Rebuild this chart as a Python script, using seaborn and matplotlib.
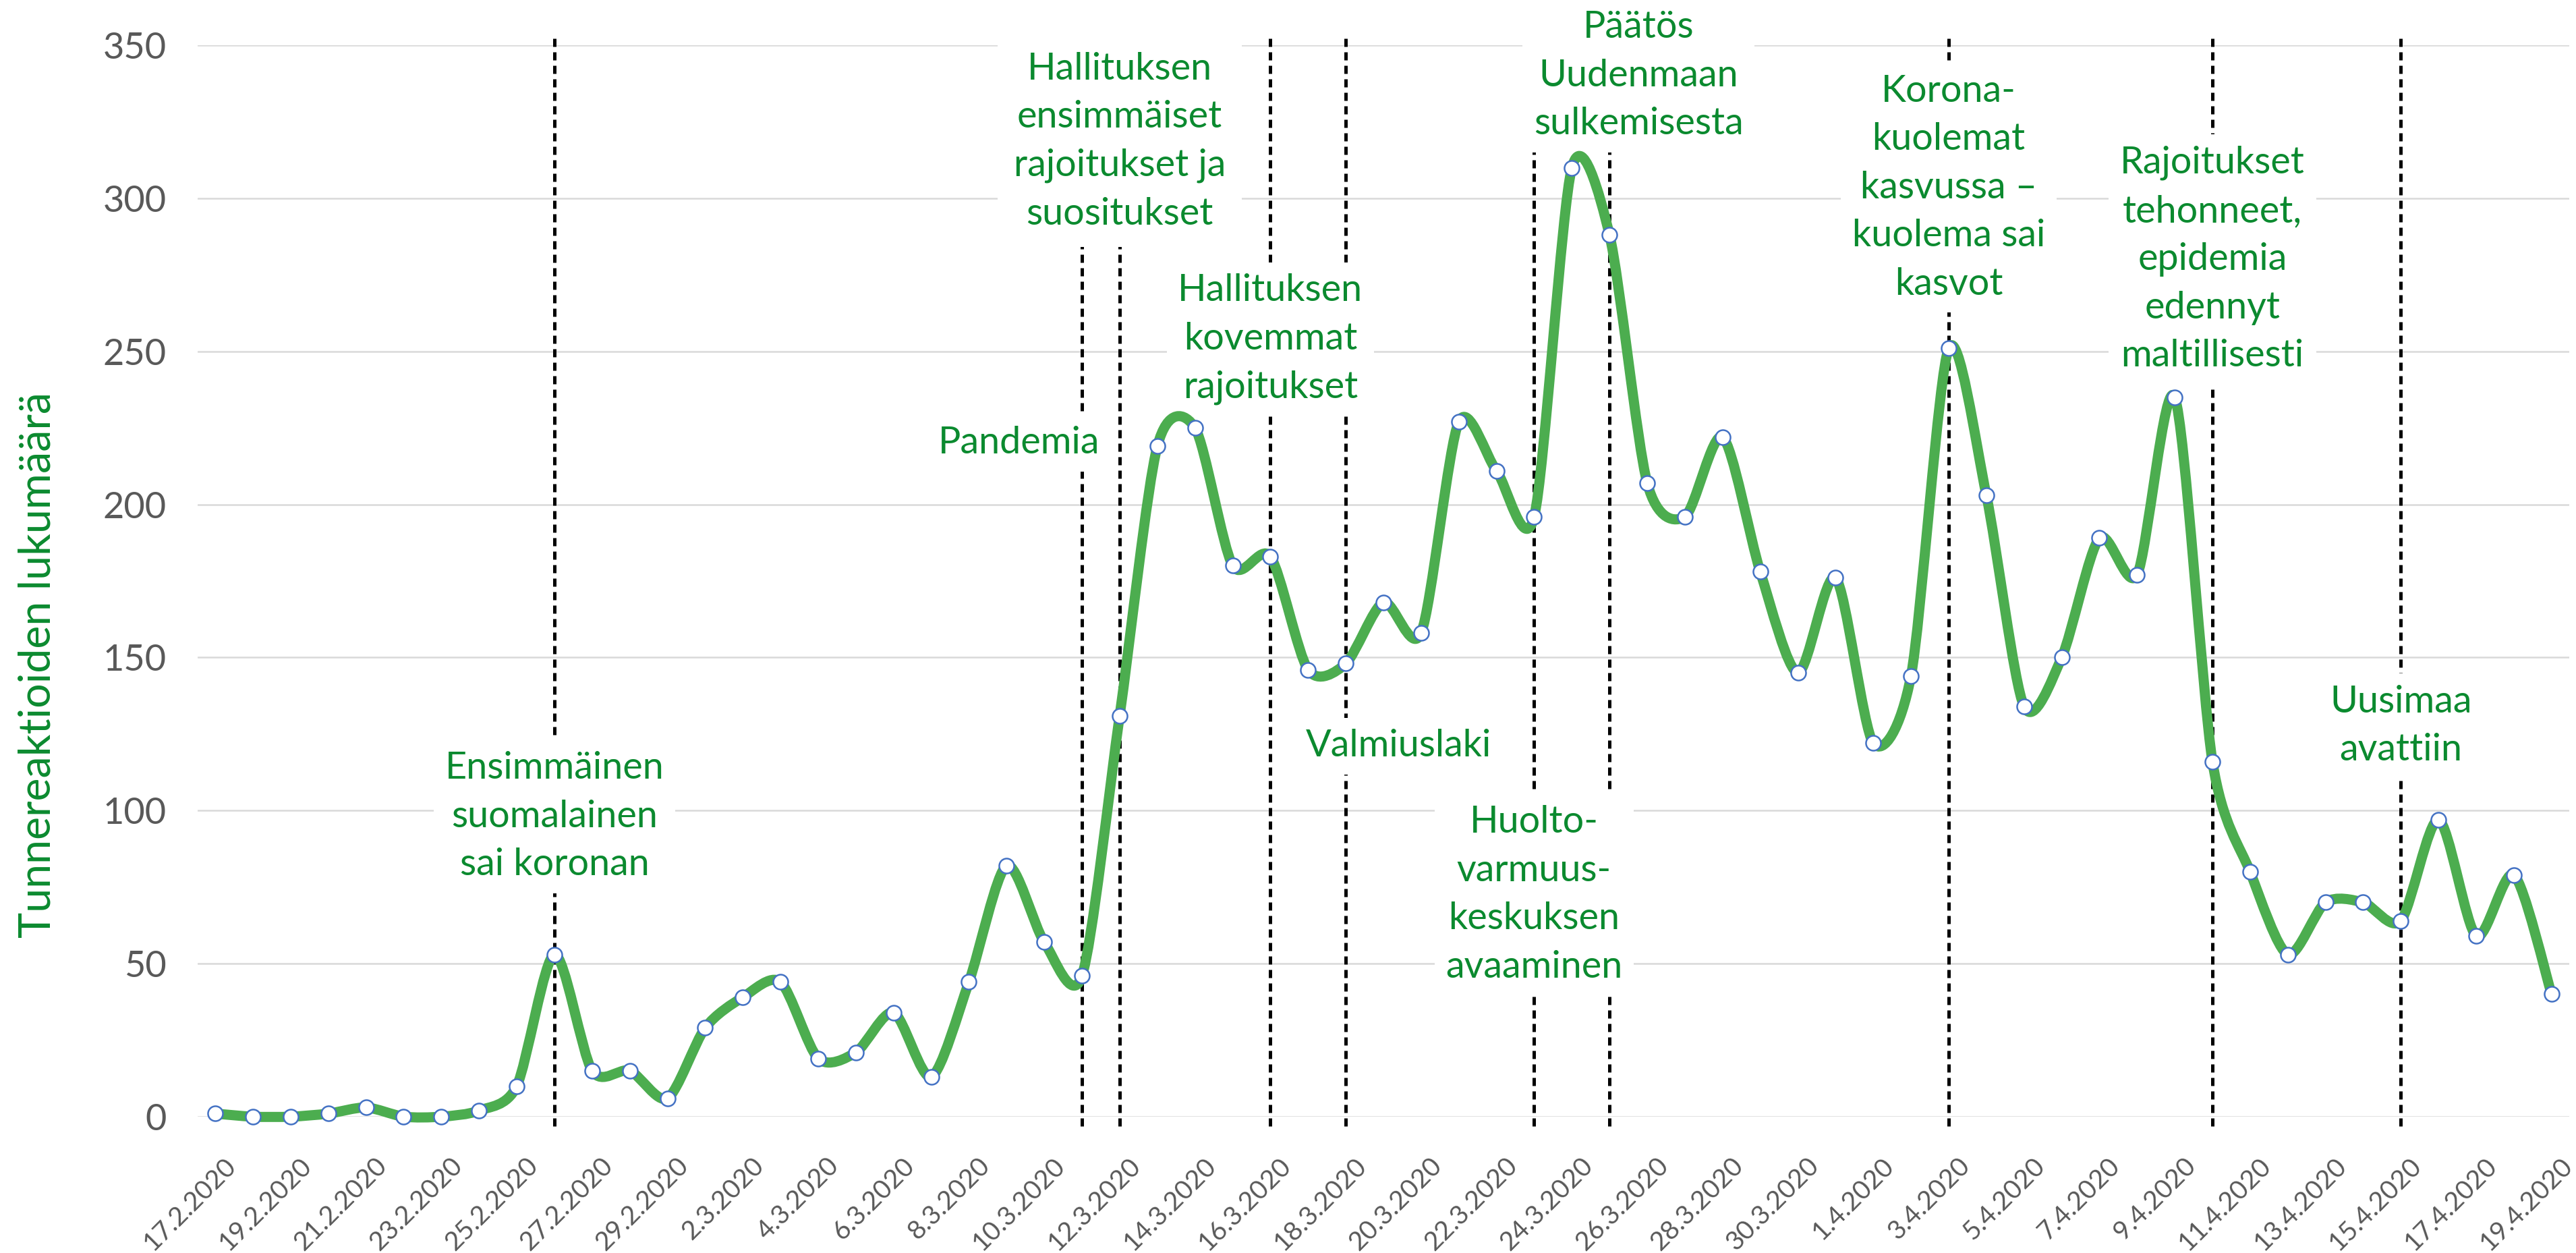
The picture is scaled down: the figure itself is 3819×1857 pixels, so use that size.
import numpy as np
import pandas as pd
import matplotlib
matplotlib.use("Agg")
import matplotlib.pyplot as plt
import matplotlib.transforms as mtransforms
from matplotlib.path import Path
from matplotlib.patches import PathPatch
import seaborn as sns

# daily dates 17.2.2020 - 19.4.2020
days = pd.date_range("2020-02-17", "2020-04-19", freq="D")
date_labels = [f"{d.day}.{d.month}.{d.year}" for d in days]

# emotional reactions per day
reactions = [1, 0, 0, 1, 3, 0, 0, 2, 10, 53,
             15, 15, 6, 29, 39, 44, 19, 21, 34, 13,
             44, 82, 57, 46, 131, 219, 225, 180, 183, 146,
             148, 168, 158, 227, 211, 196, 310, 288, 207, 196,
             222, 178, 145, 176, 122, 144, 251, 203, 134, 150,
             189, 177, 235, 116, 80, 53, 70, 70, 64, 97,
             59, 79, 40]

event_dates = ["26.2.2020", "11.3.2020", "12.3.2020", "16.3.2020", "18.3.2020",
               "23.3.2020", "25.3.2020", "3.4.2020", "10.4.2020", "15.4.2020"]
event_texts = [
    "Ensimmäinen\nsuomalainen\nsai koronan",
    "Pandemia",
    "Hallituksen\nensimmäiset\nrajoitukset ja\nsuositukset",
    "Hallituksen\nkovemmat\nrajoitukset",
    "Valmiuslaki",
    "Huolto-\nvarmuus-\nkeskuksen\navaaminen",
    "Päätös\nUudenmaan\nsulkemisesta",
    "Korona-\nkuolemat\nkasvussa –\nkuolema sai\nkasvot",
    "Rajoitukset\ntehonneet,\nepidemia\nedennyt\nmaltillisesti",
    "Uusimaa\navattiin",
]
# label placement: (shift in days from the event line, y in data units)
label_layout = [(0, 98), (-1.67, 220), (0, 318.5), (0, 254), (1.4, 121),
                (0, 72.5), (0.77, 340), (0, 303.5), (0, 280), (0, 127.6)]

LINE_GREEN = "#4CAD4F"
TEXT_GREEN = "#0B8A2F"
MARKER_EDGE = "#4472C4"
GREY = "#595959"


def smooth_path(xs, ys, tension=0.135):
    """Smoothed line like Excel's: cardinal spline segments as cubic Beziers."""
    pts = np.column_stack([xs, ys]).astype(float)
    n = len(pts)
    verts = [pts[0]]
    codes = [Path.MOVETO]
    for i in range(n - 1):
        p0 = pts[max(i - 1, 0)]
        p1 = pts[i]
        p2 = pts[i + 1]
        p3 = pts[min(i + 2, n - 1)]
        verts += [p1 + (p2 - p0) * tension, p2 - (p3 - p1) * tension, p2]
        codes += [Path.CURVE4] * 3
    return Path(verts, codes)


sns.set_theme(style="white")
plt.rcParams["font.family"] = ["Lato", "DejaVu Sans"]

fig, ax = plt.subplots(figsize=(3819 / 300, 1857 / 300), dpi=300)
fig.subplots_adjust(left=0.0767, right=0.9974, bottom=0.1088, top=0.9639)

x = np.arange(len(date_labels))

# grid
ax.set_ylim(0, 350)
ax.set_xlim(-0.47, len(x) - 1 + 0.47)
ax.set_yticks(range(0, 351, 50))
ax.yaxis.grid(True, color="#D9D9D9", lw=0.6, zorder=0)
ax.xaxis.grid(False)
ax.set_axisbelow(True)
sns.despine(ax=ax, left=True, bottom=True)

# event lines
event_x = [date_labels.index(d) for d in event_dates]
ax.vlines(event_x, -3, 353, colors="black", lw=1.2,
          linestyles=[(0, (2.4, 1.6))], zorder=2, clip_on=False)

# event labels
for i, (ex, txt, (dx, ly)) in enumerate(zip(event_x, event_texts, label_layout)):
    pad = 0.42 if i == 2 else 0.3
    ax.text(ex + dx, ly, txt, ha="center", va="center", fontsize=13.4,
            color=TEXT_GREEN, linespacing=1.5, zorder=3,
            bbox=dict(boxstyle=f"square,pad={pad}", fc="white", ec="none"))

# smoothed data line + markers
ax.add_patch(PathPatch(smooth_path(x, reactions), fill=False, ec=LINE_GREEN,
                       lw=3.6, capstyle="round", joinstyle="round",
                       zorder=4, clip_on=False))
sns.scatterplot(x=x, y=reactions, ax=ax, s=28, color="white",
                edgecolor=MARKER_EDGE, linewidth=0.6, zorder=5,
                clip_on=False, legend=False)

ax.set_xticks(x[::2])
ax.set_xticklabels(date_labels[::2], rotation=45, ha="right",
                   rotation_mode="anchor", fontsize=9.4, color=GREY)
ax.tick_params(axis="x", length=0, pad=13)
ax.tick_params(axis="y", length=0, pad=11, labelsize=13, labelcolor=GREY)
shift = mtransforms.ScaledTranslation(3 / 72, 0, fig.dpi_scale_trans)
for lbl in ax.get_xticklabels():
    lbl.set_transform(lbl.get_transform() + shift)
ax.set_xlabel("")
ax.set_ylabel("")

fig.text(0.0147, 0.4696, "Tunnereaktioiden lukumäärä", rotation=90,
         ha="center", va="center", fontsize=15.5, color=TEXT_GREEN)

fig.savefig("out.png", dpi=300)
